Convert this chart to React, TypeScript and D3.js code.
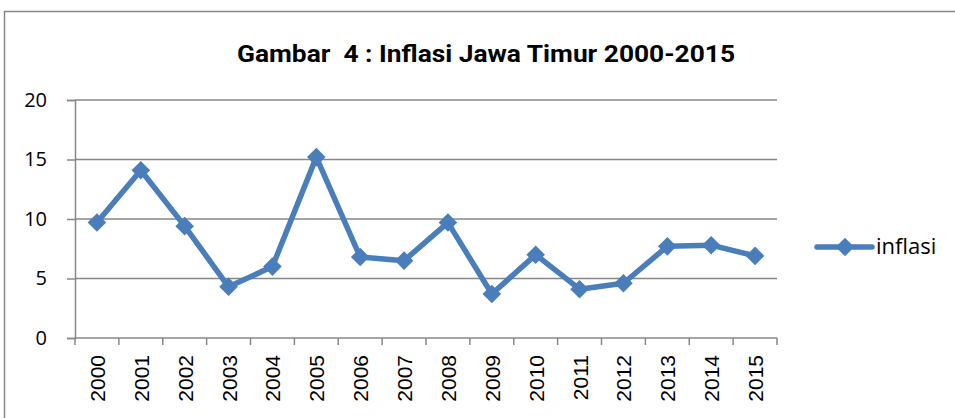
import React, { useEffect, useRef } from 'react';
import * as d3 from 'd3';

// Inflation of East Java
const years = ['2000', '2001', '2002', '2003', '2004', '2005', '2006', '2007',
  '2008', '2009', '2010', '2011', '2012', '2013', '2014', '2015'];
const inflasi = [9.7, 14.1, 9.4, 4.3, 6.0, 15.2, 6.8, 6.5, 9.7, 3.7, 7.0, 4.1, 4.6, 7.7, 7.8, 6.9];
const yTicks = [0, 5, 10, 15, 20];
const seriesName = 'inflasi';
const title = 'Gambar  4 : Inflasi Jawa Timur 2000-2015';

const W = 955;
const H = 418;
const BLUE = '#4a7ebb';
const GRID = '#878787';

const App = () => {
  const svgRef = useRef<SVGSVGElement>(null);

  useEffect(() => {
    document.body.style.margin = '0';
    const svg = d3.select(svgRef.current);
    svg.selectAll('*').remove();

    const margin = { top: 100, left: 75, right: 178, bottom: 80 };
    const innerW = W - margin.left - margin.right;
    const innerH = H - margin.top - margin.bottom;

    // outer chart border
    svg.append('rect')
      .attr('x', 4.5).attr('y', 11.5)
      .attr('width', W + 10).attr('height', H + 10)
      .attr('fill', 'white').attr('stroke', GRID).attr('stroke-width', 1.5);

    svg.append('text')
      .attr('x', 486).attr('y', 62)
      .attr('text-anchor', 'middle')
      .attr('font-family', 'Roboto, sans-serif')
      .attr('font-weight', 'bold')
      .attr('font-size', 23)
      .attr('textLength', 498)
      .attr('lengthAdjust', 'spacingAndGlyphs')
      .attr('xml:space', 'preserve')
      .style('white-space', 'pre')
      .text(title);

    const g = svg.append('g').attr('transform', `translate(${margin.left},${margin.top})`);

    const x = d3.scaleBand().domain(years).range([0, innerW]);
    const y = d3.scaleLinear().domain([0, 20]).range([innerH, 0]);

    // horizontal gridlines
    g.selectAll('.grid')
      .data(yTicks.filter(t => t > 0))
      .enter().append('line')
      .attr('x1', 0).attr('x2', innerW)
      .attr('y1', d => y(d)).attr('y2', d => y(d))
      .attr('stroke', GRID).attr('stroke-width', 1.5);

    // y axis
    const yAxis = g.append('g')
      .call(d3.axisLeft(y).tickValues(yTicks).tickSize(8).tickPadding(20).tickFormat(d3.format('d')));
    yAxis.select('.domain').attr('stroke', GRID).attr('stroke-width', 1.5);
    yAxis.selectAll('line').attr('stroke', GRID).attr('stroke-width', 1.5);
    yAxis.selectAll('text')
      .attr('font-family', '"Open Sans", sans-serif')
      .attr('font-size', 20)
      .attr('fill', '#000');

    // x axis with ticks between categories
    const xAxisG = g.append('g').attr('transform', `translate(0,${innerH})`);
    xAxisG.append('line')
      .attr('x1', 0).attr('x2', innerW)
      .attr('stroke', GRID).attr('stroke-width', 1.5);
    const bounds = years.map(d => x(d) as number).concat([innerW]);
    xAxisG.selectAll('.tick')
      .data(bounds)
      .enter().append('line')
      .attr('x1', d => d).attr('x2', d => d)
      .attr('y1', 0).attr('y2', 7)
      .attr('stroke', GRID).attr('stroke-width', 1.5);
    xAxisG.selectAll('.lbl')
      .data(years)
      .enter().append('text')
      .attr('transform', d => `translate(${(x(d) as number) + x.bandwidth() / 2 + 8},17) rotate(-90)`)
      .attr('text-anchor', 'end')
      .attr('font-family', '"Liberation Sans", Arial, sans-serif')
      .attr('font-size', 21)
      .attr('fill', '#000')
      .text(d => d);

    const cx = (d: string) => (x(d) as number) + x.bandwidth() / 2;
    const diamond = d3.symbol().type(d3.symbolDiamond2).size(220);

    g.append('path')
      .datum(inflasi)
      .attr('fill', 'none')
      .attr('stroke', BLUE)
      .attr('stroke-width', 5.5)
      .attr('stroke-linejoin', 'round')
      .attr('d', d3.line<number>().x((d, i) => cx(years[i])).y(d => y(d)));

    g.selectAll('.pt')
      .data(inflasi)
      .enter().append('path')
      .attr('transform', (d, i) => `translate(${cx(years[i])},${y(d)})`)
      .attr('d', diamond)
      .attr('fill', BLUE);

    // legend
    const lg = svg.append('g').attr('transform', 'translate(817,247)');
    lg.append('line')
      .attr('x1', 0).attr('x2', 55)
      .attr('stroke', BLUE).attr('stroke-width', 5.5).attr('stroke-linecap', 'round');
    lg.append('path').attr('d', diamond).attr('transform', 'translate(28,0)').attr('fill', BLUE);
    lg.append('text')
      .attr('x', 59).attr('y', 7)
      .attr('font-family', '"Open Sans", sans-serif')
      .attr('font-size', 22)
      .attr('fill', '#000')
      .text(seriesName);
  }, []);

  return <svg ref={svgRef} width={W} height={H} style={{ display: 'block' }} />;
};

export default App;
